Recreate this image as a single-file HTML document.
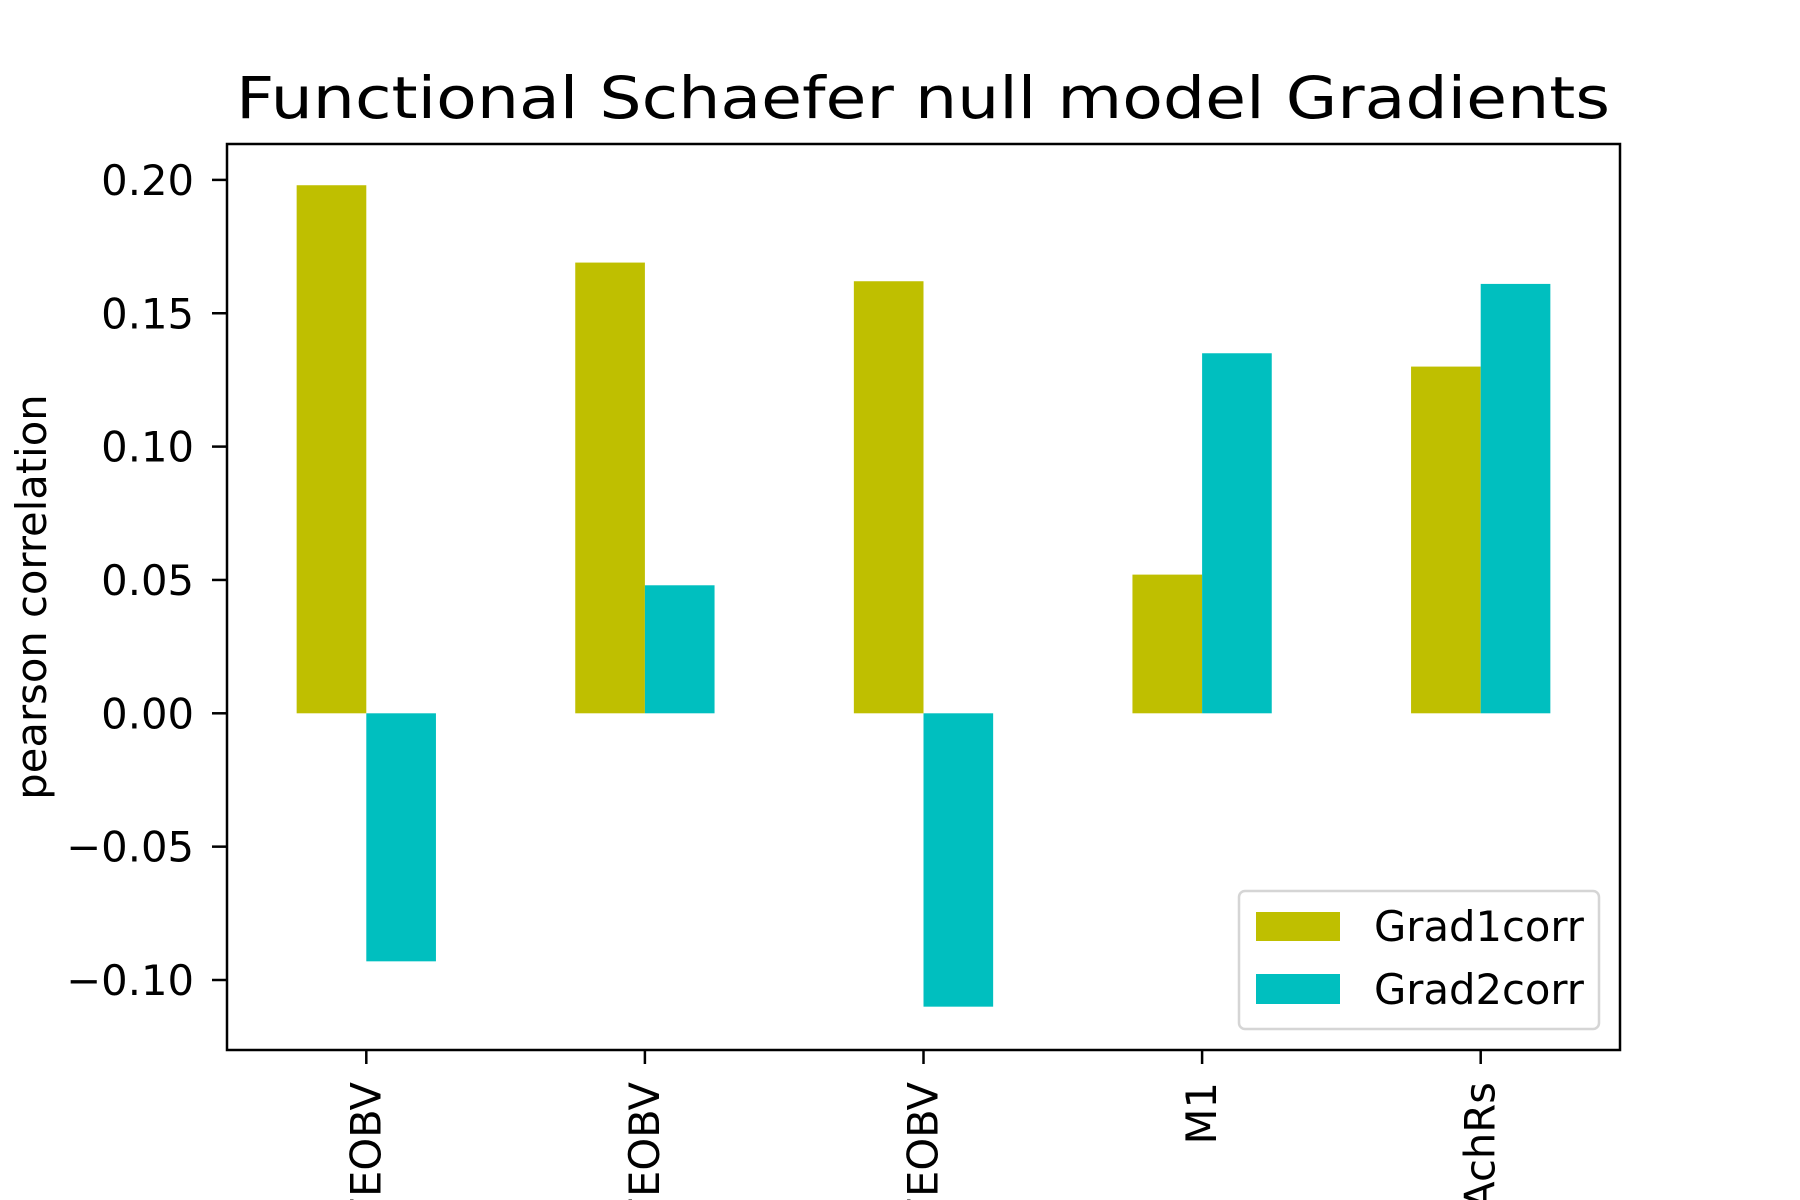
<!DOCTYPE html>
<html><head><meta charset="utf-8"><style>
html,body{margin:0;padding:0;background:#fff;width:1800px;height:1200px;overflow:hidden;}
svg{display:block;font-family:"DejaVu Sans","Liberation Sans",sans-serif;}
</style></head><body>
<svg id="chart" width="1800" height="1200" viewBox="0 0 1800 1200">
<rect width="1800" height="1200" fill="#fff"/>
<text x="923" y="118" font-size="58" text-anchor="middle" textLength="1374" lengthAdjust="spacingAndGlyphs">Functional Schaefer null model Gradients</text>
<text transform="translate(46,597) rotate(-90)" font-size="41.7" text-anchor="middle">pearson correlation</text>
<g id="marks"></g>
<rect x="227" y="144" width="1393" height="906" fill="none" stroke="#000" stroke-width="2.5"/>
<g>
<rect x="1239" y="891" width="360" height="138" rx="6" fill="#fff" fill-opacity="0.8" stroke="#d5d5d5" stroke-width="2.5"/>
<rect x="1256" y="912" width="84" height="29" fill="#bfbf00"/>
<text x="1374" y="941" font-size="41.7">Grad1corr</text>
<rect x="1256" y="974" width="84" height="30" fill="#00bfbf"/>
<text x="1374" y="1004" font-size="41.7">Grad2corr</text>
</g>
</svg>
<script>
const categories = ["VAChT_FEOBV", "FEOBV", "VAChT_FEOBV", "M1", "a4b2_nAchRs"];
const grad1 = [0.198, 0.169, 0.162, 0.052, 0.130];
const grad2 = [-0.093, 0.048, -0.110, 0.135, 0.161];
const yTicks = [-0.10, -0.05, 0.00, 0.05, 0.10, 0.15, 0.20];
const yTickLabels = ["\u22120.10", "\u22120.05", "0.00", "0.05", "0.10", "0.15", "0.20"];

const NS = "http://www.w3.org/2000/svg";
const L = 227, R = 1620;
const y0px = 713.3, pxPerUnit = 2667;
function yScale(v){ return y0px - v * pxPerUnit; }
function xScale(i){ return L + (i + 0.5) * (R - L) / categories.length; }
const unit = (R - L) / categories.length;
const bw = unit * 0.25;
const g = document.getElementById("marks");
function mk(tag, attrs){ const e = document.createElementNS(NS, tag); for (const k in attrs) e.setAttribute(k, attrs[k]); g.appendChild(e); return e; }

categories.forEach((c, i) => {
  const cx = xScale(i);
  const v1 = grad1[i], v2 = grad2[i];
  const b1 = mk("rect", {x: cx - bw, y: Math.min(yScale(v1), yScale(0)), width: bw, height: Math.abs(yScale(v1) - yScale(0)), fill: "#bfbf00"});
  
  
  const b2 = mk("rect", {x: cx, y: Math.min(yScale(v2), yScale(0)), width: bw, height: Math.abs(yScale(v2) - yScale(0)), fill: "#00bfbf"});
  
  
  const t = mk("line", {x1: cx, x2: cx, y1: 1050, y2: 1064, stroke: "#000", "stroke-width": 2.5});
  
  
  const lb = mk("text", {transform: "translate(" + (cx + 14) + ",1082) rotate(-90)", "font-size": 41.7, "text-anchor": "end"});
  lb.textContent = c;
  
  
});

yTicks.forEach((v, i) => {
  const y = yScale(v);
  const t = mk("line", {x1: 212, x2: 227, y1: y, y2: y, stroke: "#000", "stroke-width": 2.5});
  
  
  const lb = mk("text", {x: 194, y: y + 15, "font-size": 41.7, "text-anchor": "end"});
  lb.textContent = yTickLabels[i];
  
  
});
</script>
</body></html>
